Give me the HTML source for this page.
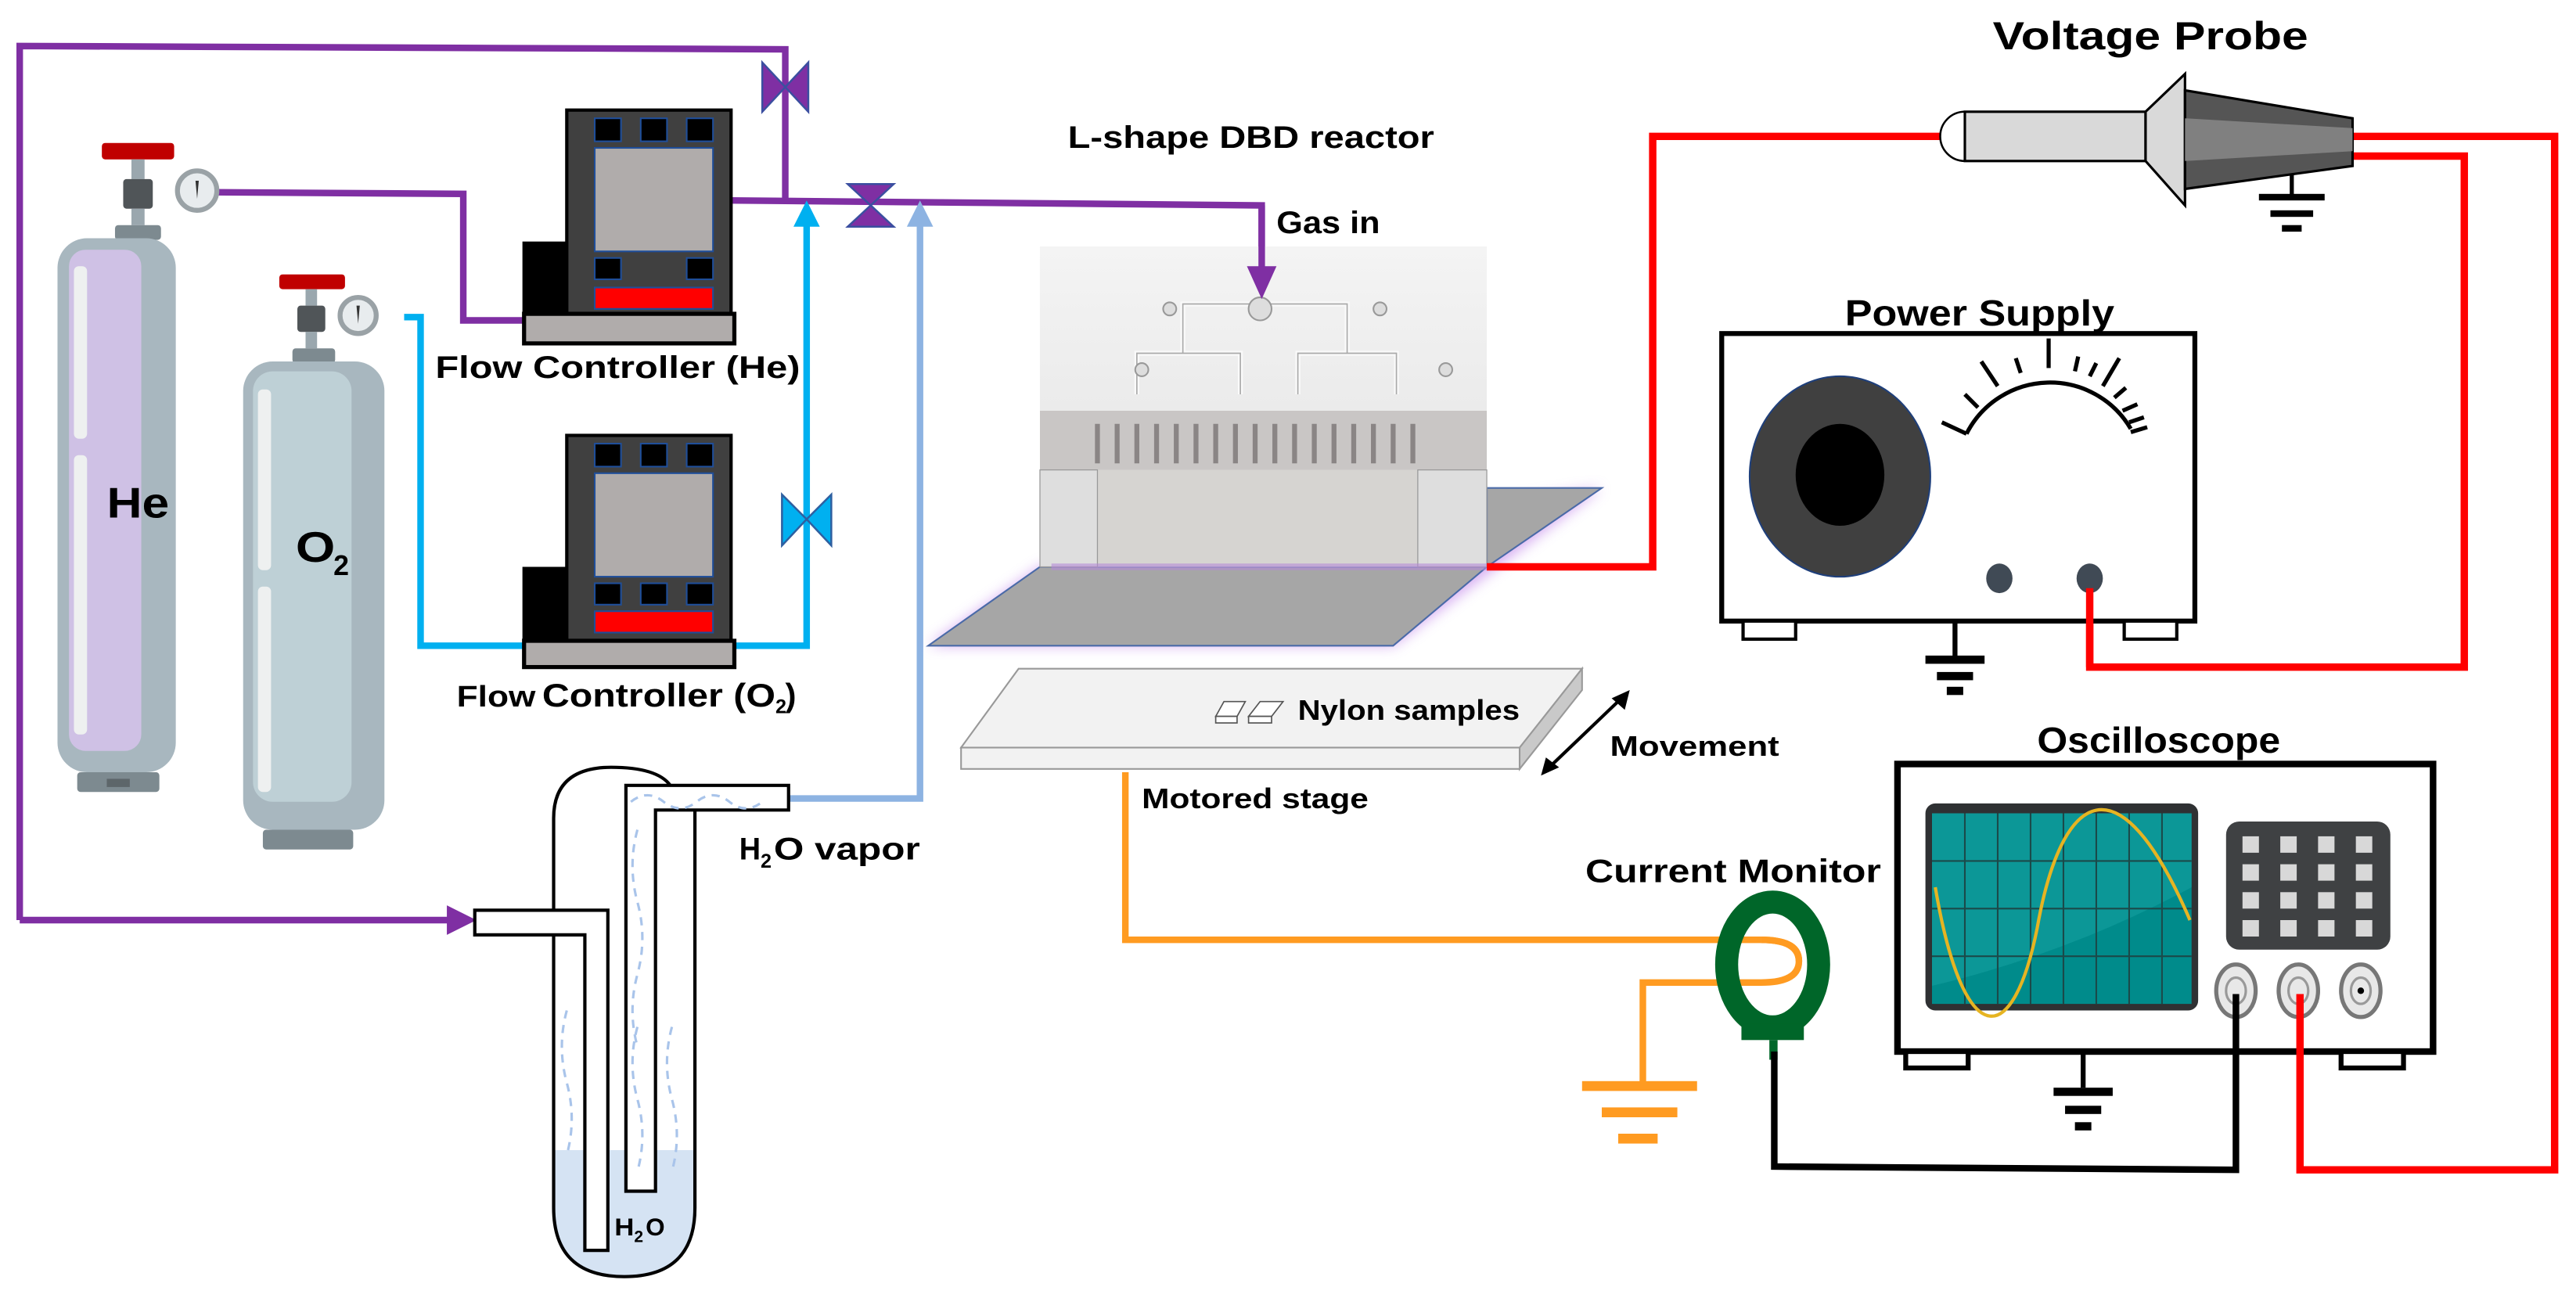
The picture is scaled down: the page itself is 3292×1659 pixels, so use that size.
<!DOCTYPE html>
<html><head><meta charset="utf-8"><style>
html,body{margin:0;padding:0;background:#fff}
svg{display:block}
text{font-family:"Liberation Sans",sans-serif;font-weight:bold;fill:#000}
</style></head><body>
<svg width="3292" height="1659" viewBox="0 0 1568 790" preserveAspectRatio="none" xmlns="http://www.w3.org/2000/svg">
<defs>
<linearGradient id="plate" x1="0" y1="0" x2="0" y2="1"><stop offset="0" stop-color="#f4f4f4"/><stop offset="1" stop-color="#e2e2e2"/></linearGradient>
<filter id="glow"><feGaussianBlur stdDeviation="4"/></filter>
</defs>

<!-- purple outer loop -->
<polyline points="12,560 12,28 478,30 478,123" fill="none" stroke="#7f2fa3" stroke-width="4"/>
<polyline points="12,560 276,560" fill="none" stroke="#7f2fa3" stroke-width="4"/>
<path d="M272,551 L290,560 L272,569z" fill="#7f2fa3"/>
<path d="M464,38 L478,53 L464,68z M492,38 L478,53 L492,68z" fill="#7f2fa3" stroke="#3b4fa0" stroke-width="1.2"/>

<polyline points="130,117 282,118 282,195 320,195" fill="none" stroke="#7f2fa3" stroke-width="4"/>
<polyline points="445,122 768,125 768,168" fill="none" stroke="#7f2fa3" stroke-width="4"/>
<path d="M516,112 L544,112 L530,125z M516,138 L544,138 L530,125z" fill="#7f2fa3" stroke="#3b4fa0" stroke-width="1.2"/>

<!-- cyan line -->
<polyline points="246,193 256,193 256,393 320,393" fill="none" stroke="#00b0f0" stroke-width="4"/>
<polyline points="447,393 491,393 491,135" fill="none" stroke="#00b0f0" stroke-width="4"/>
<path d="M483,138 L491,122 L499,138z" fill="#00b0f0"/>
<path d="M476,301 L491,316 L476,332z M506,301 L491,316 L506,332z" fill="#00b0f0" stroke="#2e5fa0" stroke-width="1.2"/>

<!-- light blue line -->
<polyline points="478,486 560,486 560,135" fill="none" stroke="#8db3e2" stroke-width="4"/>
<path d="M552,138 L560,122 L568,138z" fill="#8db3e2"/>

<!-- He cylinder -->
<rect x="62" y="87" width="44" height="10" rx="2" fill="#c00000"/>
<rect x="80" y="97" width="8" height="12" fill="#9aa7ae"/>
<rect x="75" y="109" width="18" height="18" rx="2" fill="#505558"/>
<rect x="80" y="127" width="8" height="10" fill="#9aa7ae"/>
<rect x="70" y="137" width="28" height="9" rx="2" fill="#7d8a90"/>
<circle cx="120" cy="116" r="12" fill="#e8ecee" stroke="#9aa2a6" stroke-width="3"/>
<path d="M119,110 L121,110 L120,121z" fill="#333"/>
<rect x="35" y="145" width="72" height="325" rx="18" fill="#a8b7bf"/>
<rect x="42" y="152" width="44" height="305" rx="10" fill="#cfc1e5"/>
<rect x="45" y="162" width="8" height="105" rx="3" fill="#eef0f0"/>
<rect x="45" y="277" width="8" height="170" rx="3" fill="#eef0f0"/>
<rect x="47" y="470" width="50" height="12" rx="2" fill="#7d8a90"/>
<rect x="65" y="474" width="14" height="5" fill="#5d666a"/>
<text x="65" y="315" font-size="26" textLength="38" lengthAdjust="spacingAndGlyphs">He</text>

<!-- O2 cylinder -->
<rect x="170" y="167" width="40" height="9" rx="2" fill="#c00000"/>
<rect x="186" y="176" width="7" height="10" fill="#9aa7ae"/>
<rect x="181" y="186" width="17" height="16" rx="2" fill="#505558"/>
<rect x="186" y="202" width="7" height="10" fill="#9aa7ae"/>
<rect x="178" y="212" width="26" height="9" rx="2" fill="#7d8a90"/>
<circle cx="218" cy="192" r="11" fill="#e8ecee" stroke="#9aa2a6" stroke-width="3"/>
<path d="M217,186 L219,186 L218,197z" fill="#333"/>
<rect x="148" y="220" width="86" height="285" rx="18" fill="#a8b7bf"/>
<rect x="154" y="226" width="60" height="262" rx="12" fill="#bed0d6"/>
<rect x="157" y="237" width="8" height="110" rx="3" fill="#eef0f0"/>
<rect x="157" y="357" width="8" height="125" rx="3" fill="#eef0f0"/>
<rect x="160" y="505" width="55" height="12" rx="2" fill="#7d8a90"/>
<text x="180" y="342" font-size="26" textLength="24" lengthAdjust="spacingAndGlyphs">O</text>
<text x="203" y="350" font-size="17">2</text>

<!-- He flow controller -->
<rect x="318" y="147" width="30" height="45" fill="#000"/>
<rect x="345" y="67" width="100" height="125" fill="#404040" stroke="#000" stroke-width="2"/>
<rect x="362" y="72" width="16" height="14" fill="#000" stroke="#1f4e99"/>
<rect x="390" y="72" width="16" height="14" fill="#000" stroke="#1f4e99"/>
<rect x="418" y="72" width="16" height="14" fill="#000" stroke="#1f4e99"/>
<rect x="362" y="90" width="72" height="63" fill="#b0acab" stroke="#1f4e99"/>
<rect x="362" y="157" width="16" height="13" fill="#000" stroke="#1f4e99"/>
<rect x="418" y="157" width="16" height="13" fill="#000" stroke="#1f4e99"/>
<rect x="362" y="175" width="72" height="13" fill="#ff0000" stroke="#1f4e99"/>
<rect x="319" y="191" width="128" height="18" fill="#b0acab" stroke="#000" stroke-width="2.5"/>
<text x="265" y="230" font-size="19" textLength="222" lengthAdjust="spacingAndGlyphs">Flow Controller (He)</text>

<!-- O2 flow controller -->
<rect x="318" y="345" width="30" height="45" fill="#000"/>
<rect x="345" y="265" width="100" height="125" fill="#404040" stroke="#000" stroke-width="2"/>
<rect x="362" y="270" width="16" height="14" fill="#000" stroke="#1f4e99"/>
<rect x="390" y="270" width="16" height="14" fill="#000" stroke="#1f4e99"/>
<rect x="418" y="270" width="16" height="14" fill="#000" stroke="#1f4e99"/>
<rect x="362" y="288" width="72" height="63" fill="#b0acab" stroke="#1f4e99"/>
<rect x="362" y="355" width="16" height="13" fill="#000" stroke="#1f4e99"/>
<rect x="390" y="355" width="16" height="13" fill="#000" stroke="#1f4e99"/>
<rect x="418" y="355" width="16" height="13" fill="#000" stroke="#1f4e99"/>
<rect x="362" y="372" width="72" height="13" fill="#ff0000" stroke="#1f4e99"/>
<rect x="319" y="390" width="128" height="16" fill="#b0acab" stroke="#000" stroke-width="2.5"/>
<text x="278" y="430" font-size="18" textLength="48" lengthAdjust="spacingAndGlyphs">Flow</text>
<text x="330" y="430" font-size="20" textLength="142" lengthAdjust="spacingAndGlyphs">Controller (O</text>
<text x="472" y="434" font-size="12">2</text>
<text x="478" y="430" font-size="20">)</text>

<!-- bubbler -->
<path d="M337,700 L423,700 L423,735 Q423,777 380,777 Q337,777 337,735z" fill="#d5e3f3"/>
<path d="M337,498 Q337,467 372,467 Q400,467 408,478 M337,498 L337,735 Q337,777 380,777 Q423,777 423,735 L423,493" fill="none" stroke="#000" stroke-width="2"/>
<path d="M381,478 L480,478 L480,493 L399,493 L399,725 L381,725z" fill="#fff" stroke="#000" stroke-width="2"/>
<path d="M289,554 L370,554 L370,761 L356,761 L356,569 L289,569z" fill="#fff" stroke="#000" stroke-width="2"/>
<g fill="none" stroke="#a9c4ea" stroke-width="1.5" stroke-dasharray="5,4">
<path d="M384,488 q10,-8 20,0 t20,0 t20,0 t20,0"/>
<path d="M388,505 q-6,22 0,44 t0,44 t0,44"/>
<path d="M345,615 q-6,22 0,44 t0,44"/>
<path d="M388,625 q-6,22 0,44 t0,44"/>
<path d="M409,625 q-6,22 0,44 t0,44"/>
</g>
<text x="374" y="752" font-size="15" textLength="12" lengthAdjust="spacingAndGlyphs">H</text>
<text x="386" y="756" font-size="10">2</text>
<text x="393" y="752" font-size="15">O</text>
<text x="450" y="523" font-size="19" textLength="13" lengthAdjust="spacingAndGlyphs">H</text>
<text x="463" y="528" font-size="12">2</text>
<text x="471" y="523" font-size="19" textLength="89" lengthAdjust="spacingAndGlyphs">O vapor</text>

<!-- reactor -->
<text x="650" y="90" font-size="19" textLength="223" lengthAdjust="spacingAndGlyphs">L-shape DBD reactor</text>
<text x="777" y="142" font-size="19" textLength="63" lengthAdjust="spacingAndGlyphs">Gas in</text>
<path d="M565,393 L633,345 L975,297 L848,393z" fill="#cc99ee" filter="url(#glow)" opacity="0.8"/>
<path d="M905,297 L975,297 L905,345z" fill="#a6a6a6" stroke="#4a6aa8" stroke-width="1"/>
<path d="M565,393 L848,393 L905,345 L633,345z" fill="#a6a6a6" stroke="#4a6aa8" stroke-width="1"/>
<rect x="633" y="150" width="272" height="195" fill="url(#plate)"/>
<rect x="633" y="250" width="272" height="36" fill="#c9c6c5"/>
<rect x="633" y="286" width="272" height="59" fill="#d6d4d1"/>
<rect x="633" y="286" width="35" height="59" fill="#dedede" stroke="#999" stroke-width="0.6"/>
<rect x="863" y="286" width="42" height="59" fill="#dedede" stroke="#999" stroke-width="0.6"/>
<path d="M640,345 L905,345" stroke="#b68ad8" stroke-width="4" opacity="0.6"/>
<g fill="none" stroke="#fafafa" stroke-width="3">
<path d="M767,185 L720,185 L720,215 L692,215 L692,240 M720,215 L755,215 L755,240 M767,185 L820,185 L820,215 L790,215 L790,240 M820,215 L850,215 L850,240"/>
</g>
<g fill="none" stroke="#aaa" stroke-width="0.8">
<path d="M767,185 L720,185 L720,215 L692,215 L692,240 M720,215 L755,215 L755,240 M767,185 L820,185 L820,215 L790,215 L790,240 M820,215 L850,215 L850,240"/>
</g>
<g stroke="#8a8585" stroke-width="3">
<line x1="668" y1="258" x2="668" y2="282"/><line x1="680" y1="258" x2="680" y2="282"/><line x1="692" y1="258" x2="692" y2="282"/><line x1="704" y1="258" x2="704" y2="282"/><line x1="716" y1="258" x2="716" y2="282"/><line x1="728" y1="258" x2="728" y2="282"/><line x1="740" y1="258" x2="740" y2="282"/><line x1="752" y1="258" x2="752" y2="282"/><line x1="764" y1="258" x2="764" y2="282"/><line x1="776" y1="258" x2="776" y2="282"/><line x1="788" y1="258" x2="788" y2="282"/><line x1="800" y1="258" x2="800" y2="282"/><line x1="812" y1="258" x2="812" y2="282"/><line x1="824" y1="258" x2="824" y2="282"/><line x1="836" y1="258" x2="836" y2="282"/><line x1="848" y1="258" x2="848" y2="282"/><line x1="860" y1="258" x2="860" y2="282"/>
</g>
<g fill="#ddd" stroke="#999" stroke-width="1">
<circle cx="767" cy="188" r="7"/><circle cx="712" cy="188" r="4"/><circle cx="840" cy="188" r="4"/><circle cx="695" cy="225" r="4"/><circle cx="880" cy="225" r="4"/>
</g>
<polyline points="768,125 768,168" fill="none" stroke="#7f2fa3" stroke-width="4"/>
<path d="M759,162 L768,182 L777,162z" fill="#7f2fa3"/>

<!-- motored stage -->
<path d="M585,455 L620,407 L963,407 L925,455z" fill="#f2f2f2" stroke="#999" stroke-width="1"/>
<rect x="585" y="455" width="340" height="13" fill="#f2f2f2" stroke="#999" stroke-width="1"/>
<path d="M925,455 L963,407 L963,420 L925,468z" fill="#c9c9c9" stroke="#999" stroke-width="1"/>
<g fill="#fff" stroke="#555" stroke-width="0.8">
<path d="M740,436 L745,427 L758,427 L753,436z"/><rect x="740" y="436" width="13" height="4"/>
<path d="M760,436 L767,427 L781,427 L774,436z"/><rect x="760" y="436" width="14" height="4"/>
</g>
<text x="790" y="438" font-size="17" textLength="135" lengthAdjust="spacingAndGlyphs">Nylon samples</text>
<line x1="942" y1="468" x2="988" y2="424" stroke="#000" stroke-width="2"/>
<path d="M938,472 L941,461 L949,467z M992,420 L981,425 L989,432z" fill="#000"/>
<text x="980" y="460" font-size="17" textLength="103" lengthAdjust="spacingAndGlyphs">Movement</text>
<text x="695" y="492" font-size="17" textLength="138" lengthAdjust="spacingAndGlyphs">Motored stage</text>

<!-- orange wire -->
<polyline points="685,470 685,572 1072,572" fill="none" stroke="#ff9b21" stroke-width="4"/>
<path d="M1072,572 Q1095,572 1095,585 Q1095,598 1072,598 L1000,598 L1000,660" fill="none" stroke="#ff9b21" stroke-width="4"/>
<rect x="963" y="658" width="70" height="6" fill="#ff9b21"/>
<rect x="975" y="674" width="46" height="6" fill="#ff9b21"/>
<rect x="985" y="690" width="24" height="6" fill="#ff9b21"/>

<!-- current monitor -->
<text x="965" y="537" font-size="20" textLength="180" lengthAdjust="spacingAndGlyphs">Current Monitor</text>
<ellipse cx="1079" cy="587" rx="28" ry="38" fill="none" stroke="#006629" stroke-width="14"/>
<rect x="1060" y="623" width="38" height="10" fill="#006629"/>
<rect x="1077" y="633" width="5" height="12" fill="#006629"/>
<path d="M1072,572 Q1095,572 1095,585" fill="none" stroke="#ff9b21" stroke-width="4"/>

<!-- oscilloscope -->
<text x="1240" y="458" font-size="22" textLength="148" lengthAdjust="spacingAndGlyphs">Oscilloscope</text>
<rect x="1155" y="465" width="326" height="175" fill="#fff" stroke="#000" stroke-width="4"/>
<rect x="1160" y="640" width="38" height="10" fill="#fff" stroke="#000" stroke-width="3"/>
<rect x="1425" y="640" width="38" height="10" fill="#fff" stroke="#000" stroke-width="3"/>
<line x1="1268" y1="640" x2="1268" y2="662" stroke="#000" stroke-width="3"/>
<rect x="1250" y="662" width="36" height="5" fill="#000"/>
<rect x="1257" y="673" width="22" height="5" fill="#000"/>
<rect x="1263" y="683" width="10" height="5" fill="#000"/>
<rect x="1172" y="489" width="166" height="126" rx="6" fill="#2f3133"/>
<rect x="1176" y="495" width="158" height="116" fill="#008b8b"/>
<path d="M1176,495 L1334,495 L1334,540 Q1260,580 1176,600z" fill="#14a0a0" opacity="0.6"/>
<g stroke="#1b4a4a" stroke-width="1">
<line x1="1196" y1="495" x2="1196" y2="611"/><line x1="1216" y1="495" x2="1216" y2="611"/><line x1="1236" y1="495" x2="1236" y2="611"/><line x1="1256" y1="495" x2="1256" y2="611"/><line x1="1276" y1="495" x2="1276" y2="611"/><line x1="1296" y1="495" x2="1296" y2="611"/><line x1="1316" y1="495" x2="1316" y2="611"/>
<line x1="1176" y1="524" x2="1334" y2="524"/><line x1="1176" y1="553" x2="1334" y2="553"/><line x1="1176" y1="582" x2="1334" y2="582"/>
</g>
<path d="M1178,540 C1195,640 1225,640 1240,565 C1255,480 1290,460 1333,560" fill="none" stroke="#e6b422" stroke-width="2"/>
<rect x="1355" y="500" width="100" height="78" rx="8" fill="#3f4143"/>
<g fill="#d8d8d8">
<rect x="1365" y="509" width="10" height="10"/><rect x="1388" y="509" width="10" height="10"/><rect x="1411" y="509" width="10" height="10"/><rect x="1434" y="509" width="10" height="10"/>
<rect x="1365" y="526" width="10" height="10"/><rect x="1388" y="526" width="10" height="10"/><rect x="1411" y="526" width="10" height="10"/><rect x="1434" y="526" width="10" height="10"/>
<rect x="1365" y="543" width="10" height="10"/><rect x="1388" y="543" width="10" height="10"/><rect x="1411" y="543" width="10" height="10"/><rect x="1434" y="543" width="10" height="10"/>
<rect x="1365" y="560" width="10" height="10"/><rect x="1388" y="560" width="10" height="10"/><rect x="1411" y="560" width="10" height="10"/><rect x="1434" y="560" width="10" height="10"/>
</g>
<g fill="#e8e8e8" stroke="#777" stroke-width="2.5">
<ellipse cx="1361" cy="603" rx="12" ry="16"/><ellipse cx="1399" cy="603" rx="12" ry="16"/><ellipse cx="1437" cy="603" rx="12" ry="16"/>
</g>
<g fill="none" stroke="#999" stroke-width="1.5"><ellipse cx="1361" cy="603" rx="6" ry="8"/><ellipse cx="1399" cy="603" rx="6" ry="8"/><ellipse cx="1437" cy="603" rx="6" ry="8"/></g>
<circle cx="1437" cy="603" r="2" fill="#000"/>
<polyline points="1080,640 1080,710 1361,712 1361,605" fill="none" stroke="#000" stroke-width="4"/>

<!-- red wires -->
<polyline points="1182,83 1006,83 1006,345 905,345" fill="none" stroke="#ff0000" stroke-width="4.5"/>
<polyline points="1430,83 1555,83 1555,712 1400,712 1400,605" fill="none" stroke="#ff0000" stroke-width="4.5"/>
<polyline points="1430,95 1500,95 1500,406 1272,406 1272,352" fill="none" stroke="#ff0000" stroke-width="4.5"/>

<!-- voltage probe -->
<text x="1213" y="30" font-size="24" textLength="192" lengthAdjust="spacingAndGlyphs">Voltage Probe</text>
<path d="M1196,68 A15,15 0 0,0 1196,98" fill="#fff" stroke="#000" stroke-width="1.2"/>
<rect x="1196" y="68" width="110" height="30" fill="#d9d9d9" stroke="#000" stroke-width="1.5"/>
<path d="M1306,68 L1330,45 L1330,125 L1306,98z" fill="#d9d9d9" stroke="#000" stroke-width="1.5"/>
<path d="M1330,55 L1432,72 L1432,101 L1330,115z" fill="#555" stroke="#000" stroke-width="1.5"/>
<path d="M1330,72 L1432,78 L1432,92 L1330,98z" fill="#808080"/>
<line x1="1395" y1="106" x2="1395" y2="120" stroke="#000" stroke-width="2.5"/>
<rect x="1375" y="118" width="40" height="4" fill="#000"/>
<rect x="1382" y="128" width="26" height="4" fill="#000"/>
<rect x="1389" y="137" width="12" height="4" fill="#000"/>

<!-- power supply -->
<text x="1123" y="198" font-size="22" textLength="164" lengthAdjust="spacingAndGlyphs">Power Supply</text>
<rect x="1048" y="203" width="288" height="175" fill="#fff" stroke="#000" stroke-width="3"/>
<rect x="1061" y="378" width="32" height="11" fill="#fff" stroke="#000" stroke-width="2"/>
<rect x="1293" y="378" width="32" height="11" fill="#fff" stroke="#000" stroke-width="2"/>
<line x1="1190" y1="378" x2="1190" y2="400" stroke="#000" stroke-width="3"/>
<rect x="1172" y="399" width="36" height="5" fill="#000"/>
<rect x="1179" y="409" width="22" height="5" fill="#000"/>
<rect x="1185" y="418" width="10" height="5" fill="#000"/>
<ellipse cx="1120" cy="290" rx="55" ry="61" fill="#404040" stroke="#1f3f7a" stroke-width="1"/>
<ellipse cx="1120" cy="289" rx="27" ry="31" fill="#000"/>
<path d="M1197,264 A57,57 0 0,1 1297,261" fill="none" stroke="#000" stroke-width="2.5"/>
<g stroke="#000" stroke-width="2.5">
<line x1="1197" y1="264" x2="1182" y2="257"/><line x1="1204" y1="248" x2="1196" y2="240"/><line x1="1216" y1="235" x2="1206" y2="220"/><line x1="1230" y1="227" x2="1227" y2="218"/><line x1="1247" y1="224" x2="1247" y2="206"/><line x1="1263" y1="226" x2="1265" y2="217"/><line x1="1272" y1="229" x2="1276" y2="221"/><line x1="1280" y1="235" x2="1290" y2="218"/><line x1="1287" y1="242" x2="1294" y2="236"/><line x1="1292" y1="250" x2="1301" y2="246"/><line x1="1296" y1="257" x2="1305" y2="254"/><line x1="1297" y1="263" x2="1307" y2="260"/>
</g>
<ellipse cx="1217" cy="352" rx="8" ry="9" fill="#404a55"/>
<ellipse cx="1272" cy="352" rx="8" ry="9" fill="#404a55"/>
<line x1="1272" y1="358" x2="1272" y2="406" stroke="#ff0000" stroke-width="4.5"/>
</svg>
</body></html>
